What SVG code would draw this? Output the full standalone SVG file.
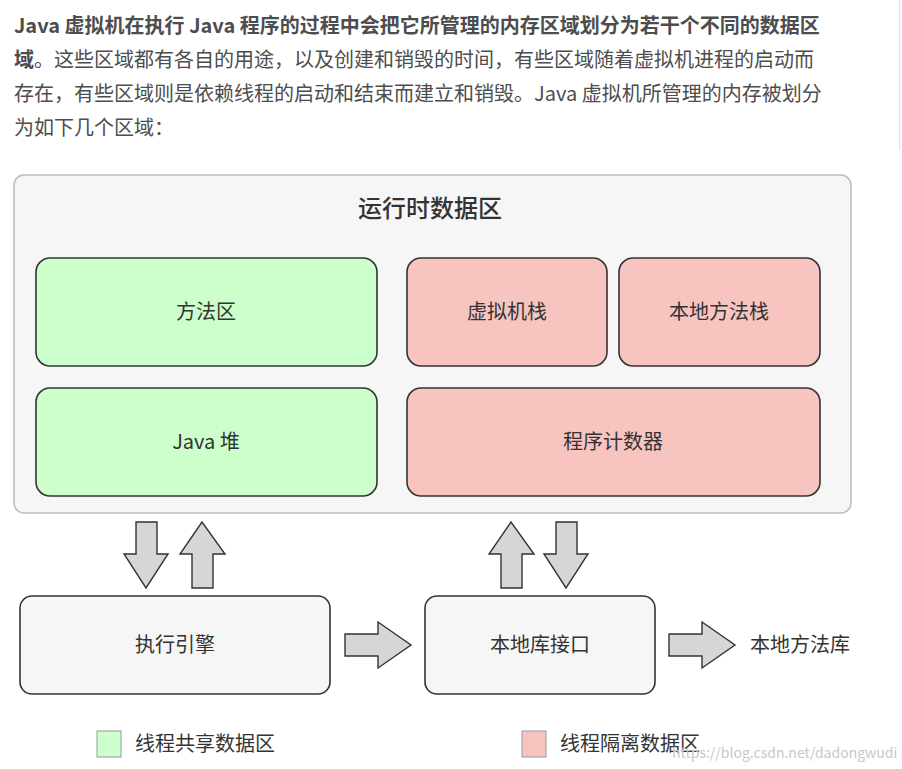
<svg xmlns="http://www.w3.org/2000/svg" width="902" height="769" viewBox="0 0 902 769">
<style>
text{font-family:"Noto Sans CJK SC","Noto Sans",sans-serif;}
.p{font-size:20px;fill:#4d4d4d;}
.b{font-weight:bold;fill:#4d4d4d;}
.g{fill:#ccffcc;stroke:#333;stroke-width:1.6;}
.r{fill:#f8c4c0;stroke:#333;stroke-width:1.6;}
.w{fill:#f6f6f6;stroke:#333;stroke-width:1.6;}
.l{font-size:20px;fill:#333;text-anchor:middle;}
.ar{fill:#d6d6d6;stroke:#333;stroke-width:1.4;}
</style>
<line x1="899.5" y1="0" x2="899.5" y2="150" stroke="#ddd"/>
<text class="p" x="14" y="33"><tspan class="b">Java 虚拟机在执行 Java 程序的过程中会把它所管理的内存区域划分为若干个不同的数据区</tspan></text>
<text class="p" x="14" y="67"><tspan class="b">域</tspan>。这些区域都有各自的用途，以及创建和销毁的时间，有些区域随着虚拟机进程的启动而</text>
<text class="p" x="14" y="101">存在，有些区域则是依赖线程的启动和结束而建立和销毁。Java 虚拟机所管理的内存被划分</text>
<text class="p" x="14" y="135">为如下几个区域：</text>
<g id="runtime">
<rect x="14" y="175" width="837" height="338" rx="10" fill="#f6f6f6" stroke="#bbb" stroke-width="1.5"/>
<text x="430" y="217" font-size="24" font-weight="500" fill="#333" text-anchor="middle">运行时数据区</text>
</g>
<g id="method"><rect class="g" x="36" y="258" width="341" height="108" rx="14"/><text class="l" x="206" y="319">方法区</text></g>
<g id="heap"><rect class="g" x="36" y="388" width="341" height="108" rx="14"/><text class="l" x="206" y="449">Java 堆</text></g>
<g id="vmstack"><rect class="r" x="407" y="258" width="200" height="108" rx="14"/><text class="l" x="507" y="319">虚拟机栈</text></g>
<g id="nstack"><rect class="r" x="619" y="258" width="201" height="108" rx="14"/><text class="l" x="719" y="319">本地方法栈</text></g>
<g id="pc"><rect class="r" x="407" y="388" width="413" height="108" rx="14"/><text class="l" x="613" y="449">程序计数器</text></g>
<g id="engine"><rect class="w" x="20" y="596" width="310" height="98" rx="12"/><text class="l" x="175" y="652">执行引擎</text></g>
<g id="native"><rect class="w" x="425" y="596" width="230" height="98" rx="12"/><text class="l" x="540" y="652">本地库接口</text></g>
<g id="nlib"><text x="750" y="652" font-size="20" fill="#333">本地方法库</text></g>
<g id="connectors">
<polygon class="ar" points="136,522 157,522 157,554 168,554 146,588 124,554 136,554"/>
<polygon class="ar" points="192,588 213,588 213,554 225,554 202,522 180,554 192,554"/>
<polygon class="ar" points="501,588 522,588 522,554 534,554 511,522 489,554 501,554"/>
<polygon class="ar" points="556,522 577,522 577,554 588,554 566,588 544,554 556,554"/>
<polygon class="ar" points="345,634 378,634 378,622 411,645 378,668 378,656 345,656"/>
<polygon class="ar" points="669,634 702,634 702,622 735,645 702,668 702,656 669,656"/>
</g>
<g id="legend">
<rect x="97" y="731" width="24" height="26" fill="#ccffcc" stroke="#999"/>
<text x="135" y="751" font-size="20" fill="#333">线程共享数据区</text>
<rect x="522" y="731" width="24" height="26" fill="#f8c4c0" stroke="#999"/>
<text x="560" y="751" font-size="20" fill="#333">线程隔离数据区</text>
<text x="672" y="758" font-size="14" fill="#c8c8c8" font-family="Liberation Sans,sans-serif">https://blog.csdn.net/dadongwudi</text>
</g>
</svg>
